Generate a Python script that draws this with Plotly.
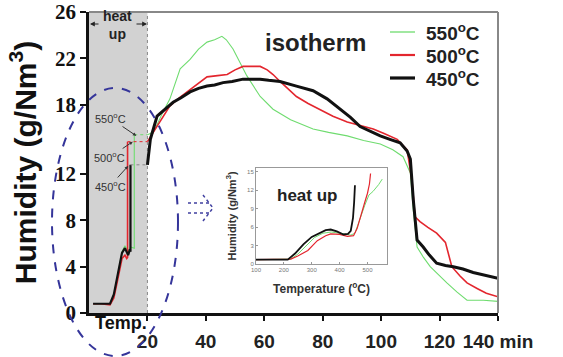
import plotly.graph_objects as go

# ---------------- data ----------------
# main chart: heat-up section (time, min)
t_hu_550 = [1.4, 4, 7.2, 8.5, 9.6, 10.5, 11.3, 12.3, 13.4, 14.2, 15.5, 15.5]
h_hu_550 = [0.8, 0.8, 0.8, 1.5, 3.0, 4.3, 5.3, 5.8, 5.3, 5.7, 5.6, 15.4]
t_hu_500 = [1.4, 4, 7.2, 8.5, 9.6, 10.5, 11.3, 12.3, 12.9, 13.2, 13.2]
h_hu_500 = [0.8, 0.8, 0.7, 1.3, 2.6, 3.8, 4.7, 5.0, 4.7, 4.8, 14.8]
t_hu_450 = [1.4, 4, 7.2, 8.5, 9.6, 10.5, 11.3, 12.3, 13.4, 14.0, 14.2, 14.2]
h_hu_450 = [0.8, 0.8, 0.8, 1.6, 2.9, 4.2, 5.2, 5.6, 5.0, 5.5, 5.3, 12.8]

# plateau (dotted) from end of heat-up to 20 min
t_pl_550 = [15.5, 20]
h_pl_550 = [15.4, 15.4]
t_pl_500 = [13.2, 20]
h_pl_500 = [14.8, 14.8]
t_pl_450 = [14.2, 20]
h_pl_450 = [12.8, 12.8]

# isotherm section
t_550 = [20, 21, 22.6, 25, 27.7, 31.2, 34.6, 37.5, 40.4, 43, 45.5, 47, 49.3, 51.5, 54, 58.6, 63, 69,
         76.7, 82, 88.4, 94, 99.7, 104, 107.5, 110, 111, 112.3, 114.5, 116.8, 119.5, 122.5, 126,
         129.4, 135, 140]
h_550 = [15.4, 15.5, 15.9, 17.2, 18.5, 21.1, 21.9, 22.8, 23.4, 23.6, 23.9, 23.6, 22.8, 21.7, 20.5,
         18.7, 17.6, 16.7, 15.9, 15.6, 15.3, 14.9, 14.6, 14.1, 13.5, 12.1, 8.9, 5.7, 4.8, 4.0, 3.3,
         2.6, 1.8, 1.1, 1.1, 1.0]
t_500 = [20, 22, 24, 27.7, 31, 34.6, 38, 40.4, 44, 47.3, 50, 52.7, 55.5, 58.6, 61, 63, 65.4, 68, 71,
         75, 79, 83.5, 88.4, 93, 97.3, 101, 105.5, 108.9, 110.6, 111.6, 113.3, 116, 119, 122, 124.2,
         127, 129.4, 133, 136, 140]
h_500 = [14.8, 15.6, 16.5, 17.9, 18.6, 19.3, 19.9, 20.4, 20.5, 20.6, 21.0, 21.3, 21.3, 21.3, 21.0,
         20.6, 20.0, 19.4, 18.7, 18.1, 17.6, 17.0, 16.5, 16.2, 15.9, 15.5, 15.0, 14.1, 11.3, 8.3,
         7.9, 7.4, 6.9, 6.1, 4.0, 3.2, 2.6, 2.1, 1.7, 1.4]
t_450 = [20, 21, 23.3, 26, 28.8, 31.5, 34.6, 37.5, 40.4, 43, 45.9, 49, 52.7, 55.5, 58.6, 61.5, 65.4,
         71, 76.7, 81.5, 86, 89.5, 92.8, 96, 99.7, 103, 106.5, 108.9, 110, 111, 112.3, 114.4, 116.5,
         119, 122, 124.7, 128, 131.5, 135, 140]
h_450 = [12.8, 15.0, 17.0, 17.6, 18.2, 18.6, 19.1, 19.4, 19.6, 19.7, 19.9, 20.0, 20.2, 20.2, 20.2,
         20.1, 20.0, 19.6, 19.2, 18.5, 17.6, 16.9, 16.1, 15.7, 15.3, 15.0, 14.7, 14.0, 13.3, 9.8,
         6.3, 5.7, 5.0, 4.3, 4.1, 4.0, 3.8, 3.5, 3.3, 3.0]

# inset: heat-up vs temperature
T_ins_550 = [100, 150, 200, 225, 250, 280, 310, 340, 370, 400, 420, 440, 455, 470, 490, 505, 520, 540, 553]
h_ins_550 = [0.7, 0.7, 0.7, 0.8, 1.6, 3.0, 4.3, 5.0, 5.2, 5.0, 4.8, 4.7, 5.0, 7.0, 9.5, 11.2, 11.8, 12.9, 13.8]
T_ins_500 = [100, 150, 200, 225, 250, 286, 320, 350, 368, 400, 428, 450, 463, 475, 490, 500, 507, 511]
h_ins_500 = [0.7, 0.7, 0.7, 0.8, 1.3, 2.2, 3.8, 4.6, 4.9, 4.8, 4.5, 4.6, 5.8, 7.5, 10.0, 11.5, 13.0, 14.7]
T_ins_450 = [100, 150, 200, 214, 240, 270, 300, 330, 350, 368, 390, 414, 430, 440, 448, 452, 455, 455]
h_ins_450 = [0.7, 0.7, 0.7, 0.7, 1.7, 3.2, 4.4, 5.1, 5.5, 5.6, 5.3, 4.8, 4.9, 5.4, 7.5, 10.0, 12.0, 12.8]

series_names = ["550<sup>o</sup>C", "500<sup>o</sup>C", "450<sup>o</sup>C"]
y_tickvals = [0, 4, 8, 12, 18, 22, 26]
x_tickvals = [20, 40, 60, 80, 100, 120, 140]
x_ticktext = ["20", "40", "60", "80", "100", "120", "140 min"]
ins_x_ticks = [100, 200, 300, 400, 500]
ins_y_ticks = [0, 3, 6, 9, 12, 15]

GREEN = "#6fdc6f"
RED = "#e3262e"
BLACK = "#111111"
colors = [GREEN, RED, BLACK]
widths = [1.1, 1.6, 3.0]

fig = go.Figure()

hu = [(t_hu_550, h_hu_550), (t_hu_500, h_hu_500), (t_hu_450, h_hu_450)]
pl = [(t_pl_550, h_pl_550), (t_pl_500, h_pl_500), (t_pl_450, h_pl_450)]
iso = [(t_550, h_550), (t_500, h_500), (t_450, h_450)]
ins = [(T_ins_550, h_ins_550), (T_ins_500, h_ins_500), (T_ins_450, h_ins_450)]
pl_colors = [GREEN, RED, "#888888"]

for i in range(3):
    fig.add_trace(go.Scatter(x=hu[i][0], y=hu[i][1], mode="lines", showlegend=False,
                             line=dict(color=colors[i], width=widths[i] if i < 2 else 2.2)))
    fig.add_trace(go.Scatter(x=pl[i][0], y=pl[i][1], mode="lines", showlegend=False,
                             line=dict(color=pl_colors[i], width=1, dash="dot")))
for i in range(3):
    fig.add_trace(go.Scatter(x=iso[i][0], y=iso[i][1], mode="lines", name=series_names[i],
                             showlegend=False, line=dict(color=colors[i], width=widths[i])))
for i in range(3):
    fig.add_trace(go.Scatter(x=ins[i][0], y=ins[i][1], mode="lines", showlegend=False,
                             xaxis="x2", yaxis="y2",
                             line=dict(color=colors[i], width=[1.0, 1.2, 1.8][i])))

SANS = "Liberation Sans, Arial, sans-serif"
SERIF = "Liberation Serif, Times New Roman, serif"

# plot area: x 89..498 px, y 12..313 px
PX0, PX1, PY0, PY1 = 89, 498, 12, 313
def px(x):
    return (x - PX0) / (PX1 - PX0)
def py(y):
    return (PY1 - y) / (PY1 - PY0)

fig.update_layout(
    width=563, height=357,
    margin=dict(l=89, r=65, t=12, b=44),
    paper_bgcolor="white", plot_bgcolor="white",
    showlegend=False,
    xaxis=dict(range=[0, 140], tickvals=x_tickvals, ticktext=x_ticktext, automargin=False,
               showgrid=False, zeroline=False, showline=True, linecolor="#111", linewidth=2.5,
               ticks="outside", ticklen=5, tickwidth=1.5, tickcolor="#111", ticklabelstandoff=4,
               tickfont=dict(family=SANS, size=19, color="#222", weight="bold")),
    yaxis=dict(range=[0, 26], tickvals=y_tickvals, showgrid=False, zeroline=False, automargin=False,
               showline=True, linecolor="#111", linewidth=2.5,
               ticks="outside", ticklen=6, tickwidth=1.5, tickcolor="#111",
               tickfont=dict(family=SERIF, size=21, color="#111", weight="bold"),
               title=dict(text="Humidity (g/Nm<sup>3</sup>)", standoff=10,
                          font=dict(family=SANS, size=30, color="#111", weight="bold"))),
    xaxis2=dict(domain=[px(256), px(387)], anchor="y2", range=[100, 570], tickvals=ins_x_ticks,
                showgrid=False, zeroline=False, showline=True, linecolor="#999", linewidth=1,
                mirror=True, ticks="inside", ticklen=2, tickcolor="#999", automargin=False,
                tickfont=dict(family=SANS, size=6, color="#777"),
                title=dict(text="Temperature (<sup>o</sup>C)", standoff=12,
                           font=dict(family=SANS, size=12, color="#333", weight="bold"))),
    yaxis2=dict(domain=[py(264), py(168)], anchor="x2", range=[0, 15.6], tickvals=ins_y_ticks,
                showgrid=False, zeroline=False, showline=True, linecolor="#999", linewidth=1,
                mirror=True, ticks="inside", ticklen=2, tickcolor="#999", automargin=False,
                tickfont=dict(family=SANS, size=6, color="#777"),
                title=dict(text="Humidity (g/Nm<sup>3</sup>)", standoff=8,
                           font=dict(family=SANS, size=11, color="#333", weight="bold"))),
)

shapes = []
# heat-up shaded region
shapes.append(dict(type="rect", xref="x", yref="paper", x0=0, x1=20, y0=0, y1=1,
                   fillcolor="#d2d2d2", line=dict(width=0), layer="below"))
shapes.append(dict(type="line", xref="x", yref="paper", x0=20, x1=20, y0=0, y1=1,
                   line=dict(color="#888", width=1, dash="dot"), layer="below"))
# gray frame (top/right)
shapes.append(dict(type="line", xref="paper", yref="paper", x0=0, x1=1, y0=1, y1=1,
                   line=dict(color="#888", width=2)))
shapes.append(dict(type="line", xref="paper", yref="paper", x0=1, x1=1, y0=0, y1=1,
                   line=dict(color="#888", width=2)))
# dashed ellipse
shapes.append(dict(type="circle", xref="paper", yref="paper", x0=px(52), x1=px(178),
                   y0=py(356), y1=py(88), line=dict(color="#35359a", width=2, dash="dash"),
                   layer="above"))
# dotted double arrow
for yy in (203, 213):
    shapes.append(dict(type="line", xref="paper", yref="paper", x0=px(188), x1=px(209),
                       y0=py(yy), y1=py(yy), line=dict(color="#4040a0", width=1.5, dash="dot")))
shapes.append(dict(type="path", xref="paper", yref="paper",
                   path=f"M {px(203)} {py(195)} L {px(213)} {py(208)} L {px(203)} {py(221)}",
                   line=dict(color="#4040a0", width=1.5, dash="dot")))
# manual legend line samples
leg_y = [32, 55, 78]
for c, w, yy in zip(colors, [1.3, 2.2, 3.2], leg_y):
    shapes.append(dict(type="line", xref="paper", yref="paper", x0=px(390), x1=px(415),
                       y0=py(yy), y1=py(yy), line=dict(color=c, width=w)))
fig.update_layout(shapes=shapes)

ann = []
def text_ann(x, y, text, size, color="#222", bold=True, xanchor="center"):
    return dict(xref="paper", yref="paper", x=px(x), y=py(y), text=text, showarrow=False,
                xanchor=xanchor, yanchor="middle",
                font=dict(family=SANS, size=size, color=color, weight="bold" if bold else "normal"))

ann.append(text_ann(315, 42, "isotherm", 24))
ann.append(text_ann(307, 195, "heat up", 17))
ann.append(text_ann(117, 25, "heat<br>up", 14))
ann.append(text_ann(121, 323, "Temp.", 18, color="#111"))
for name, yy in zip(series_names, leg_y):
    ann.append(text_ann(424, yy, name, 19, xanchor="left"))
# heat up bracket arrows
ann.append(dict(xref="paper", yref="paper", x=px(90), y=py(24), ax=10, ay=0,
                text="", showarrow=True, arrowhead=2,
                arrowsize=0.8, arrowwidth=1.2, arrowcolor="#222"))
ann.append(dict(xref="paper", yref="paper", x=px(147), y=py(24), ax=-12, ay=0,
                text="", showarrow=True, arrowhead=2,
                arrowsize=0.8, arrowwidth=1.2, arrowcolor="#222"))
# temperature labels with arrows
lab_pos = [(110, 118, 16.2, 15.3), (110, 157, 15.0, 14.8), (110, 186, 13.4, 12.7)]
for name, (tx, ty, ax_t, ax_h) in zip(series_names, lab_pos):
    ann.append(dict(xref="x", yref="y", x=ax_t, y=ax_h,
                    ax=tx - (PX0 + ax_t * (PX1 - PX0) / 140),
                    ay=ty - (PY1 - ax_h * (PY1 - PY0) / 26),
                    text=name, showarrow=True, arrowhead=2, arrowsize=0.7, arrowwidth=1,
                    arrowcolor="#333", font=dict(family=SANS, size=11, color="#333")))
fig.update_layout(annotations=ann)

fig.write_html("out.html")
